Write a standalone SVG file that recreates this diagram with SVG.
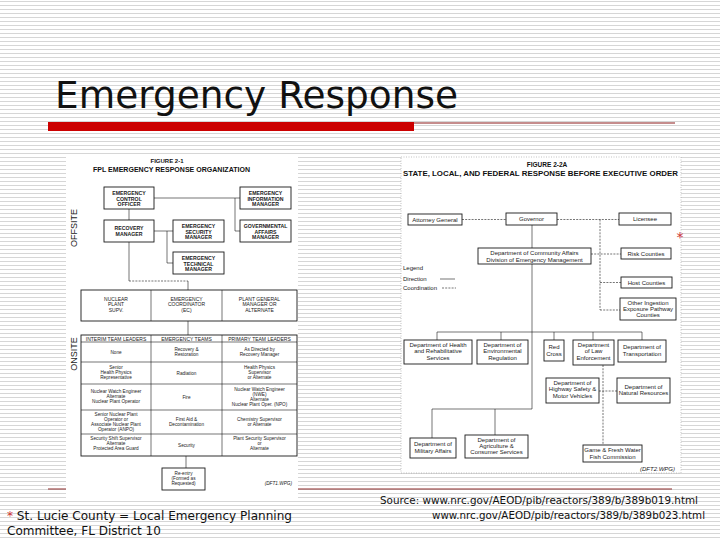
<svg xmlns="http://www.w3.org/2000/svg" width="720" height="540" viewBox="0 0 720 540">
<defs>
<pattern id="stripes" x="0" y="0" width="8" height="4" patternUnits="userSpaceOnUse">
<rect x="0" y="0" width="8" height="4" fill="#ffffff"/>
<rect x="0" y="1" width="8" height="1" fill="#d6d6d6"/>
</pattern>
<style>
.bx{fill:#ffffff;stroke:#1a1a1a;stroke-width:0.9}
.ln{fill:none;stroke:#1a1a1a;stroke-width:0.6}
.dl{fill:none;stroke:#1a1a1a;stroke-width:0.6;stroke-dasharray:2,1.2}
.lb{font-family:"Liberation Sans",Arial,sans-serif;font-size:5.2px;font-weight:bold;fill:#1a1a1a;text-anchor:middle}
.tb{font-family:"Liberation Sans",Arial,sans-serif;font-size:4.7px;fill:#1a1a1a;text-anchor:middle}
.th{font-family:"Liberation Sans",Arial,sans-serif;font-size:5px;fill:#1a1a1a;text-anchor:middle}
.rb{font-family:"Liberation Sans",Arial,sans-serif;font-size:6px;fill:#1a1a1a;text-anchor:middle}
.hd{font-family:"Liberation Sans",Arial,sans-serif;font-weight:bold;fill:#111}
.side{font-family:"Liberation Sans",Arial,sans-serif;font-size:9px;fill:#1a1a1a;text-anchor:middle}
.ft{font-family:"DejaVu Sans","Liberation Sans",sans-serif;fill:#111}
</style>
</defs>

<rect x="0" y="0" width="720" height="540" fill="url(#stripes)"/>

<g id="title">
<text x="55" y="108" class="ft" font-size="38" textLength="403" lengthAdjust="spacingAndGlyphs">Emergency Response</text>
<rect x="48" y="122" width="366" height="9" fill="#cc0000"/>
<line x1="414" y1="123" x2="675" y2="123" stroke="#8b1a1a" stroke-width="1"/>
</g>

<line id="footer-rule" x1="48" y1="489" x2="672" y2="489" stroke="#8b2a2a" stroke-width="1.2"/>

<!-- LEFT FIGURE -->
<g id="fig-2-1">
<rect x="66" y="157" width="232" height="342" fill="#ffffff"/>
<text x="167" y="163" class="hd" font-size="6" text-anchor="middle">FIGURE 2-1</text>
<text x="93" y="172" class="hd" font-size="6.5" textLength="157" lengthAdjust="spacingAndGlyphs">FPL EMERGENCY RESPONSE ORGANIZATION</text>
<text class="side" transform="translate(77,228) rotate(-90)">OFFSITE</text>
<text class="side" transform="translate(77,354) rotate(-90)">ONSITE</text>

<g id="l-connectors">
<path class="ln" d="M129,209 V220"/>
<path class="ln" d="M154,198 H240"/>
<path class="ln" d="M235,198 V231 H240"/>
<path class="ln" d="M154,231 H173"/>
<path class="ln" d="M167,231 V263 H173"/>
<path class="ln" d="M129,242 V281"/>
<path class="dl" d="M129,281 H188"/>
<path class="ln" d="M188,281 V290"/>
<path class="ln" d="M188,321 V335"/>
<path class="ln" d="M186,456 V468"/>
</g>

<g id="eco"><rect class="bx" x="104" y="187" width="50" height="22"/>
<text class="lb" x="129" y="195">EMERGENCY</text><text class="lb" x="129" y="200.7">CONTROL</text><text class="lb" x="129" y="206.4">OFFICER</text></g>
<g id="eim"><rect class="bx" x="240" y="187" width="51" height="22"/>
<text class="lb" x="265.5" y="195">EMERGENCY</text><text class="lb" x="265.5" y="200.7">INFORMATION</text><text class="lb" x="265.5" y="206.4">MANAGER</text></g>
<g id="rm"><rect class="bx" x="104" y="220" width="50" height="22"/>
<text class="lb" x="129" y="230">RECOVERY</text><text class="lb" x="129" y="235.7">MANAGER</text></g>
<g id="esm"><rect class="bx" x="173" y="220" width="51" height="22"/>
<text class="lb" x="198.5" y="228">EMERGENCY</text><text class="lb" x="198.5" y="233.7">SECURITY</text><text class="lb" x="198.5" y="239.4">MANAGER</text></g>
<g id="gam"><rect class="bx" x="240" y="220" width="51" height="22"/>
<text class="lb" x="265.5" y="228">GOVERNMENTAL</text><text class="lb" x="265.5" y="233.7">AFFAIRS</text><text class="lb" x="265.5" y="239.4">MANAGER</text></g>
<g id="etm"><rect class="bx" x="173" y="252" width="51" height="22"/>
<text class="lb" x="198.5" y="260">EMERGENCY</text><text class="lb" x="198.5" y="265.7">TECHNICAL</text><text class="lb" x="198.5" y="271.4">MANAGER</text></g>

<g id="onsite-top">
<rect class="bx" x="81" y="290" width="216" height="31"/>
<line class="ln" x1="151" y1="290" x2="151" y2="321"/>
<line class="ln" x1="222" y1="290" x2="222" y2="321"/>
<text class="th" x="116" y="300.5">NUCLEAR</text><text class="th" x="116" y="306">PLANT</text><text class="th" x="116" y="311.5">SUPV.</text>
<text class="th" x="186.5" y="300.5">EMERGENCY</text><text class="th" x="186.5" y="306">COORDINATOR</text><text class="th" x="186.5" y="311.5">(EC)</text>
<text class="th" x="259.5" y="300.5">PLANT GENERAL</text><text class="th" x="259.5" y="306">MANAGER OR</text><text class="th" x="259.5" y="311.5">ALTERNATE</text>
</g>

<g id="team-table">
<rect class="bx" x="81" y="335" width="216" height="121"/>
<line class="ln" x1="151" y1="335" x2="151" y2="456"/>
<line class="ln" x1="222" y1="335" x2="222" y2="456"/>
<line class="ln" x1="81" y1="342" x2="297" y2="342"/>
<line class="ln" x1="81" y1="362" x2="297" y2="362"/>
<line class="ln" x1="81" y1="384" x2="297" y2="384"/>
<line class="ln" x1="81" y1="410" x2="297" y2="410"/>
<line class="ln" x1="81" y1="434" x2="297" y2="434"/>
<text class="th" x="116" y="340.5">INTERIM TEAM LEADERS</text>
<text class="th" x="186.5" y="340.5">EMERGENCY TEAMS</text>
<text class="th" x="259.5" y="340.5">PRIMARY TEAM LEADERS</text>
<text class="tb" x="116" y="353.5">None</text>
<text class="tb" x="186.5" y="351">Recovery &amp;</text><text class="tb" x="186.5" y="356">Restoration</text>
<text class="tb" x="259.5" y="351">As Directed by</text><text class="tb" x="259.5" y="356">Recovery Manager</text>
<text class="tb" x="116" y="369">Senior</text><text class="tb" x="116" y="374">Health Physics</text><text class="tb" x="116" y="379">Representative</text>
<text class="tb" x="186.5" y="374.5">Radiation</text>
<text class="tb" x="259.5" y="369">Health Physics</text><text class="tb" x="259.5" y="374">Supervisor</text><text class="tb" x="259.5" y="379">or Alternate</text>
<text class="tb" x="116" y="393">Nuclear Watch Engineer</text><text class="tb" x="116" y="398">Alternate</text><text class="tb" x="116" y="403">Nuclear Plant Operator</text>
<text class="tb" x="186.5" y="398.5">Fire</text>
<text class="tb" x="259.5" y="390.5">Nuclear Watch Engineer</text><text class="tb" x="259.5" y="395.5">(NWE)</text><text class="tb" x="259.5" y="400.5">Alternate</text><text class="tb" x="259.5" y="405.5">Nuclear Plant Oper. (NPO)</text>
<text class="tb" x="116" y="415.5">Senior Nuclear Plant</text><text class="tb" x="116" y="420.5">Operator or</text><text class="tb" x="116" y="425.5">Associate Nuclear Plant</text><text class="tb" x="116" y="430.5">Operator (ANPO)</text>
<text class="tb" x="186.5" y="420.5">First Aid &amp;</text><text class="tb" x="186.5" y="425.5">Decontamination</text>
<text class="tb" x="259.5" y="420.5">Chemistry Supervisor</text><text class="tb" x="259.5" y="425.5">or Alternate</text>
<text class="tb" x="116" y="440">Security Shift Supervisor</text><text class="tb" x="116" y="445">Alternate</text><text class="tb" x="116" y="450">Protected Area Guard</text>
<text class="tb" x="186.5" y="446.5">Security</text>
<text class="tb" x="259.5" y="440">Plant Security Supervisor</text><text class="tb" x="259.5" y="445">or</text><text class="tb" x="259.5" y="450">Alternate</text>
</g>

<g id="reentry"><rect class="bx" x="162" y="468" width="43" height="22"/>
<text class="tb" x="183.5" y="474.5">Re-entry</text><text class="tb" x="183.5" y="479.5">(Formed as</text><text class="tb" x="183.5" y="484.5">Requested)</text></g>
<text x="292" y="485" class="tb" font-style="italic" style="text-anchor:end">(DFT1.WPG)</text>
</g>

<!-- RIGHT FIGURE -->
<g id="fig-2-2a">
<rect x="401" y="157" width="280" height="316" fill="#ffffff" stroke="#9a9a9a" stroke-width="0.6" stroke-dasharray="1,1.5"/>
<text x="547" y="167" class="hd" font-size="6.5" text-anchor="middle">FIGURE 2-2A</text>
<text x="403" y="176" class="hd" font-size="6.8" textLength="275" lengthAdjust="spacingAndGlyphs">STATE, LOCAL, AND FEDERAL RESPONSE BEFORE EXECUTIVE ORDER</text>

<g id="r-connectors">
<path class="dl" d="M462,219.5 H506"/>
<path class="dl" d="M557,219.5 H619"/>
<path class="dl" d="M600,219.5 V310"/>
<path class="dl" d="M591,254 H621"/>
<path class="dl" d="M600,282.5 H621"/>
<path class="dl" d="M600,310 H620"/>
<path class="ln" d="M532,225 V248"/>
<path class="ln" d="M532,264 V409 H432 V438"/>
<path class="ln" d="M495,409 V435"/>
<path class="ln" d="M437,340 V332 H642 V340"/>
<path class="ln" d="M501,332 V340"/>
<path class="ln" d="M554,332 V340"/>
<path class="ln" d="M593,332 V340"/>
<path class="dl" d="M603,365 V445"/>
<path class="dl" d="M599,391 H617"/>
</g>

<g id="legend">
<text x="403" y="270" class="rb" style="text-anchor:start">Legend</text>
<text x="403" y="281" class="rb" style="text-anchor:start">Direction</text>
<line class="ln" x1="440" y1="279" x2="455" y2="279"/>
<text x="403" y="290" class="rb" style="text-anchor:start">Coordination</text>
<line class="dl" x1="442" y1="288" x2="456" y2="288"/>
</g>

<g id="attorney"><rect class="bx" x="408" y="214" width="54" height="11"/><text class="rb" x="435" y="221.8">Attorney General</text></g>
<g id="governor"><rect class="bx" x="506" y="213" width="51" height="12"/><text class="rb" x="531.5" y="221.2">Governor</text></g>
<g id="licensee"><rect class="bx" x="619" y="213" width="52" height="12"/><text class="rb" x="645" y="221.2">Licensee</text></g>
<g id="dca"><rect class="bx" x="478" y="248" width="113" height="16"/>
<text class="rb" x="534.5" y="254.8">Department of Community Affairs</text><text class="rb" x="534.5" y="261.5">Division of Emergency Management</text></g>
<g id="risk"><rect class="bx" x="621" y="248" width="50" height="11"/><text class="rb" x="646" y="255.8">Risk Counties</text></g>
<g id="host"><rect class="bx" x="621" y="277" width="51" height="11"/><text class="rb" x="646.5" y="284.8">Host Counties</text></g>
<g id="ingestion"><rect class="bx" x="620" y="298" width="56" height="22"/>
<text class="rb" x="648" y="304.5">Other Ingestion</text><text class="rb" x="648" y="310.8">Exposure Pathway</text><text class="rb" x="648" y="317.1">Counties</text></g>

<g id="health"><rect class="bx" x="404" y="340" width="68" height="24"/>
<text class="rb" x="438" y="346.5">Department of Health</text><text class="rb" x="438" y="353">and Rehabilitative</text><text class="rb" x="438" y="359.5">Services</text></g>
<g id="envreg"><rect class="bx" x="477" y="340" width="51" height="24"/>
<text class="rb" x="502.5" y="346.5">Department of</text><text class="rb" x="502.5" y="353">Environmental</text><text class="rb" x="502.5" y="359.5">Regulation</text></g>
<g id="redcross"><rect class="bx" x="544" y="340" width="20" height="21"/>
<text class="rb" x="554" y="349">Red</text><text class="rb" x="554" y="355.5">Cross</text></g>
<g id="lawenf"><rect class="bx" x="573" y="340" width="41" height="25"/>
<text class="rb" x="593.5" y="346.5">Department</text><text class="rb" x="593.5" y="353">of Law</text><text class="rb" x="593.5" y="359.7">Enforcement</text></g>
<g id="transport"><rect class="bx" x="618" y="340" width="48" height="22"/>
<text class="rb" x="642" y="349">Department of</text><text class="rb" x="642" y="355.7">Transportation</text></g>
<g id="highway"><rect class="bx" x="546" y="378" width="53" height="25"/>
<text class="rb" x="572.5" y="384.8">Department of</text><text class="rb" x="572.5" y="391.2">Highway Safety &amp;</text><text class="rb" x="572.5" y="397.6">Motor Vehicles</text></g>
<g id="natres"><rect class="bx" x="617" y="378" width="53" height="25"/>
<text class="rb" x="643.5" y="388.5">Department of</text><text class="rb" x="643.5" y="395">Natural Resources</text></g>
<g id="military"><rect class="bx" x="410" y="438" width="46" height="20"/>
<text class="rb" x="433" y="446">Department of</text><text class="rb" x="433" y="452.6">Military Affairs</text></g>
<g id="agri"><rect class="bx" x="465" y="435" width="63" height="23"/>
<text class="rb" x="496.5" y="441.6">Department of</text><text class="rb" x="496.5" y="447.9">Agriculture &amp;</text><text class="rb" x="496.5" y="454.2">Consumer Services</text></g>
<g id="gamefish"><rect class="bx" x="583" y="445" width="59" height="17"/>
<text class="rb" x="612.5" y="452" font-size="5.5">Game &amp; Fresh Water</text><text class="rb" x="612.5" y="458.6" font-size="5.5">Fish Commission</text></g>
<text x="675" y="471" class="rb" font-style="italic" style="text-anchor:end">(DFT2.WPG)</text>
</g>

<text x="680" y="242" font-family="DejaVu Sans, sans-serif" font-size="14" fill="#cc3333" text-anchor="middle">*</text>

<g id="footnotes">
<text x="7" y="520" class="ft" font-size="12" textLength="285" lengthAdjust="spacingAndGlyphs"><tspan fill="#cc3333">*</tspan> St. Lucie County = Local Emergency Planning</text>
<text x="7" y="535" class="ft" font-size="12">Committee, FL District 10</text>
<text x="380" y="504" class="ft" font-size="10.5" textLength="318" lengthAdjust="spacingAndGlyphs">Source:  www.nrc.gov/AEOD/pib/reactors/389/b/389b019.html</text>
<text x="705" y="519" class="ft" font-size="10.5" text-anchor="end" textLength="273" lengthAdjust="spacingAndGlyphs">www.nrc.gov/AEOD/pib/reactors/389/b/389b023.html</text>
</g>
</svg>
